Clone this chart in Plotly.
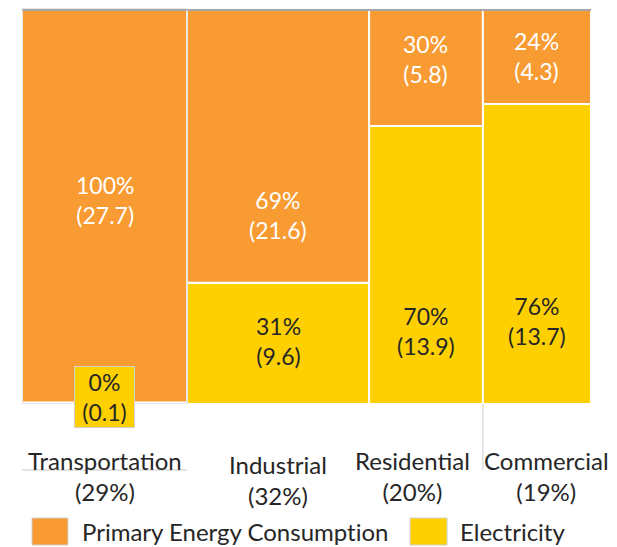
import plotly.graph_objects as go

sectors = ["Transportation", "Industrial", "Residential", "Commercial"]
sector_share = [29, 32, 20, 19]          # % of total energy (column widths)
primary = [27.7, 21.6, 5.8, 4.3]         # primary energy consumption
electricity = [0.1, 9.6, 13.9, 13.7]     # electricity
primary_pct = [100, 69, 30, 24]
elec_pct = [0, 31, 70, 76]
legend_names = ["Primary Energy Consumption", "Electricity"]

ORANGE = "#F89B32"
YELLOW = "#FED000"
DARK = "#262626"
FONT = "Lato"

# column geometry from the shares
edges = [0]
for s in sector_share:
    edges.append(edges[-1] + s)
centers = [(edges[i] + edges[i + 1]) / 2 for i in range(len(sectors))]
totals = [p + e for p, e in zip(primary, electricity)]
elec_h = [100 * e / t for e, t in zip(electricity, totals)]
prim_h = [100 * p / t for p, t in zip(primary, totals)]

fig = go.Figure()
fig.add_trace(go.Bar(x=centers, y=elec_h, width=sector_share, base=0,
                     marker=dict(color=YELLOW, line=dict(color="white", width=2)),
                     name=legend_names[1], hoverinfo="skip"))
fig.add_trace(go.Bar(x=centers, y=prim_h, width=sector_share, base=elec_h,
                     marker=dict(color=ORANGE, line=dict(color="white", width=2)),
                     name=legend_names[0], hoverinfo="skip"))

YMAX = 100.5
annotations = []
# label vertical placement (layout), on the 0-100 column scale
prim_label_y = [51.8, 48, 87.5, 88.3]
elec_label_y = [1.8, 16, 18.5, 21]
for i in range(len(sectors)):
    annotations.append(dict(x=centers[i], y=prim_label_y[i], xref="x", yref="y",
                            text=f"{primary_pct[i]}%<br>({primary[i]})", showarrow=False,
                            font=dict(family=FONT, size=23, color="white")))
    if i == 0:
        annotations.append(dict(x=centers[i], y=elec_label_y[i], xref="x", yref="y",
                                text=f"{elec_pct[i]}%<br>({electricity[i]})", showarrow=False,
                                width=57, bgcolor=YELLOW, bordercolor="#D0D0D0",
                                borderwidth=1, borderpad=1,
                                font=dict(family=FONT, size=23, color=DARK)))
    else:
        annotations.append(dict(x=centers[i], y=elec_label_y[i], xref="x", yref="y",
                                text=f"{elec_pct[i]}%<br>({electricity[i]})", showarrow=False,
                                font=dict(family=FONT, size=23, color=DARK)))

# category labels
cat_xshift = [0, 0, -13, 10]
cat_yshift = [0, -4, 0, 0]
for i in range(len(sectors)):
    annotations.append(dict(x=centers[i], y=-0.1818, xref="x", yref="paper",
                            text=f"{sectors[i]}<br>({sector_share[i]}%)", showarrow=False,
                            xshift=cat_xshift[i], yshift=cat_yshift[i], yanchor="middle",
                            font=dict(family=FONT, size=24, color=DARK)))

# legend (manual); zero-width non-joiner avoids the Lato "ti" ligature
annotations.append(dict(x=0.1019, y=-0.3232, xref="paper", yref="paper", xanchor="left",
                        yanchor="middle", text=legend_names[0].replace("ti", "t\u200ci"),
                        showarrow=False, font=dict(family=FONT, size=24, color=DARK)))
annotations.append(dict(x=0.766, y=-0.3232, xref="paper", yref="paper", xanchor="left",
                        yanchor="middle", text=legend_names[1], showarrow=False,
                        font=dict(family=FONT, size=24, color=DARK)))

shapes = [
    dict(type="rect", xref="paper", yref="paper", x0=0.0176, x1=0.0808, y0=-0.3561, y1=-0.2879,
         fillcolor=ORANGE, line=dict(color="#D0D0D0", width=1)),
    dict(type="rect", xref="paper", yref="paper", x0=0.682, x1=0.747, y0=-0.3561, y1=-0.2879,
         fillcolor=YELLOW, line=dict(color="#D0D0D0", width=1)),
    # top border line
    dict(type="line", xref="x", yref="y", x0=edges[0], x1=edges[-1], y0=100, y1=100,
         line=dict(color="#A6A6A6", width=2)),
    # thin frame around first column
    dict(type="rect", xref="x", yref="y", x0=edges[0], x1=edges[1], y0=0, y1=YMAX,
         line=dict(color="#D0D0D0", width=1), layer="above"),
    # stray guide lines
    dict(type="line", xref="x", yref="paper", x0=edges[0], x1=edges[1], y0=-0.1667, y1=-0.1667,
         line=dict(color="#C8C8C8", width=1)),
    dict(type="line", xref="x", yref="paper", x0=edges[3], x1=edges[3], y0=0, y1=-0.1667,
         line=dict(color="#D0D0D0", width=1)),
]

# the page body adds an 8px offset, so the figure is shifted by 8px
fig.update_layout(
    width=609, height=539,
    margin=dict(l=14, r=26, t=0, b=143),
    paper_bgcolor="white", plot_bgcolor="white",
    showlegend=False, barmode="overlay",
    xaxis=dict(range=[edges[0], edges[-1]], showticklabels=False, showgrid=False,
               zeroline=False, showline=False, fixedrange=True),
    yaxis=dict(range=[0, YMAX], showticklabels=False, showgrid=False,
               zeroline=False, showline=False, fixedrange=True),
    annotations=annotations, shapes=shapes,
    font=dict(family=FONT),
)

fig.write_html("out.html")
